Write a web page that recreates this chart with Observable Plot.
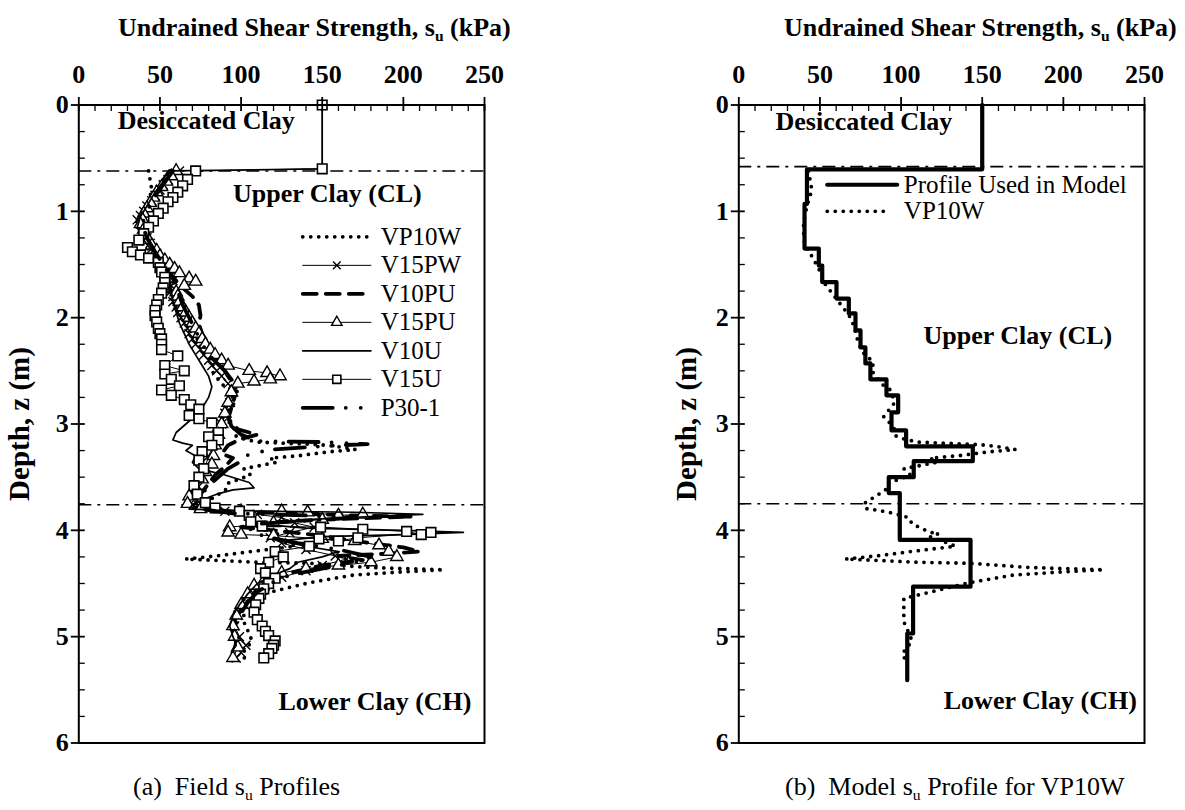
<!DOCTYPE html>
<html><head><meta charset="utf-8">
<script src="https://cdn.jsdelivr.net/npm/d3@7"></script>
<script src="https://cdn.jsdelivr.net/npm/@observablehq/plot@0.6"></script>
<style>
body{margin:0;background:#fff;}
#root{position:relative;width:1185px;height:810px;overflow:hidden;background:#fff;font-family:"Liberation Serif","Times New Roman",serif;color:#000;}
.title{position:absolute;top:13px;font-weight:bold;font-size:26px;white-space:nowrap;line-height:30px}
.cap{position:absolute;top:772px;font-size:26px;white-space:nowrap;line-height:30px}
.ylab{position:absolute;font-weight:bold;font-size:29px;white-space:nowrap;line-height:32px;transform:translate(-50%,-50%) rotate(-90deg);}
sub{font-size:0.6em;vertical-align:-0.3em;line-height:0}
.panel{position:absolute;top:0}
</style></head><body>
<div id="root">
  <div class="title" id="tA" style="left:118px">Undrained Shear Strength, s<sub>u</sub> (kPa)</div>
  <div class="title" id="tB" style="left:784px">Undrained Shear Strength, s<sub>u</sub> (kPa)</div>
  <div class="ylab" style="left:19px;top:424px">Depth, z (m)</div>
  <div class="ylab" style="left:686px;top:424px">Depth, z (m)</div>
  <div class="cap" style="left:133px">(a)&nbsp; Field s<sub>u</sub> Profiles</div>
  <div class="cap" style="left:785px">(b)&nbsp; Model s<sub>u</sub> Profile for VP10W</div>
  <div class="panel" id="pA" style="left:0px"></div>
  <div class="panel" id="pB" style="left:600px"></div>
</div>
<script>
// ---------- data (su in kPa, depth in m) ----------
const seriesNames = ["VP10W","V15PW","V10PU","V15PU","V10U","V15U","P30-1"];
const xMajor = [0,50,100,150,200,250];
const yMajor = [0,1,2,3,4,5,6];
const layerBoundaryA = [0.62, 3.76];
const layerBoundaryB = [0.58, 3.75];

const vp10w = [[43,0.62],[45,0.8],[42,0.95],[40,1.1],[39.8,1.18],[40.5,1.3],[46,1.45],[50.3,1.57],[53,1.68],[58,1.78],[63,1.88],[68,1.98],[71,2.08],[73,2.2],[76,2.32],[83,2.42],[82,2.5],[86,2.58],[89.3,2.64],[93.5,2.68],[96,2.8],[89.3,2.93],[95.5,3.03],[96.5,3.11],[101.7,3.14],[110,3.17],[125,3.18],[143,3.19],[153,3.2],[163,3.22],[170.5,3.24],[155,3.26],[134.6,3.3],[118,3.32],[122,3.36],[112,3.39],[101.7,3.42],[105.8,3.48],[91.4,3.56],[90.4,3.62],[83.2,3.69],[77,3.75],[79.1,3.8],[85.3,3.81],[95.5,3.84],[104.7,3.88],[106.8,3.94],[118,4.02],[123.2,4.03],[118,4.06],[130.4,4.13],[133.5,4.15],[122,4.17],[105.8,4.2],[85.3,4.24],[65.7,4.27],[81.1,4.28],[110,4.3],[142.8,4.31],[179.7,4.35],[225,4.37],[200,4.39],[169.4,4.42],[142.8,4.49],[126.3,4.55],[110,4.61],[101.7,4.64],[101.7,4.78],[101.7,4.86],[103.8,4.93],[106.8,5.04],[100.7,5.16],[102.7,5.22]];

const v15pw = [[62,0.62],[58,0.66],[55,0.7],[52,0.75],[50,0.8],[47,0.85],[45,0.9],[42,0.95],[40,1.0],[38,1.04],[36,1.08],[38,1.12],[40,1.15],[41,1.2],[42,1.25],[44,1.3],[45,1.35],[48,1.4],[50,1.45],[53,1.5],[55,1.55],[57,1.6],[58,1.65],[57,1.7],[57,1.75],[58,1.8],[58,1.85],[60,1.9],[61,1.95],[63,2.0],[65,2.05],[67,2.1],[68,2.15],[70,2.2],[72,2.25],[75,2.3],[77,2.35],[80,2.4],[82,2.45],[85,2.5],[88,2.55],[92,2.62],[95,2.7],[93,2.8],[90,2.9],[88,3.0],[85,3.1],[83,3.2],[80,3.3],[78,3.4],[75,3.5],[73,3.6],[72,3.7],[74,3.78],[90,3.82],[110,3.85],[125,3.88],[133,3.93],[145,3.97],[130,4.02],[118,4.07],[125,4.12],[140,4.18],[158,4.24],[165,4.27],[150,4.33],[140,4.38],[125,4.44],[115,4.52],[108,4.6],[102,4.7],[98,4.8],[96,4.9],[99,5.0],[103,5.08],[100,5.15],[97,5.2]];

const v10pu = [[56,0.62],[50,0.75],[45,0.88],[41,1.0],[38,1.1],[40,1.22],[44,1.32],[48,1.42],[53,1.52],[58,1.62],[64,1.72],[70,1.8],[74,1.88],[75,1.98],[74,2.06],[76,2.15],[80,2.25],[84,2.35],[88,2.45],[92,2.55],[96,2.65],[96,2.75],[94,2.85],[92,2.95],[98,3.05],[110,3.1],[100,3.14],[92,3.2],[88,3.28],[95,3.32],[90,3.4],[84,3.48],[80,3.56],[76,3.64],[72,3.72],[70,3.78],[80,3.82],[130,3.84],[170,3.86],[205,3.87],[150,3.9],[110,3.93],[100,3.97],[120,4.0],[150,4.05],[170,4.1],[200,4.16],[210,4.2],[190,4.22],[160,4.24],[175,4.28],[150,4.33],[130,4.4],[118,4.48],[110,4.55],[105,4.65],[100,4.75],[96,4.85],[95,4.95],[97,5.05],[96,5.12]];

const v15pu = [[60,0.62],[57,0.67],[54,0.72],[51,0.77],[48,0.82],[46,0.87],[44,0.92],[42,0.97],[40,1.02],[39,1.07],[38,1.12],[40,1.17],[41,1.22],[43,1.27],[45,1.32],[48,1.37],[50,1.42],[53,1.46],[56,1.5],[59,1.54],[62,1.58],[68,1.63],[72,1.66],[65,1.7],[60,1.76],[61,1.8],[62,1.85],[64,1.9],[66,1.95],[68,2.0],[70,2.05],[72,2.1],[74,2.15],[76,2.2],[78,2.25],[81,2.3],[84,2.35],[88,2.4],[92,2.45],[105,2.5],[116,2.52],[124,2.55],[118,2.58],[108,2.6],[98,2.62],[94,2.7],[92,2.8],[90,2.9],[88,3.0],[86,3.1],[84,3.2],[83,3.3],[82,3.38],[78,3.45],[76,3.52],[72,3.6],[68,3.68],[67,3.75],[75,3.8],[100,3.82],[125,3.82],[141,3.83],[160,3.86],[175,3.85],[150,3.9],[120,3.93],[93,3.97],[92,4.02],[100,4.04],[120,4.05],[150,4.08],[170,4.1],[185,4.14],[191,4.2],[196,4.25],[180,4.3],[160,4.33],[140,4.36],[125,4.4],[115,4.45],[108,4.52],[104,4.6],[100,4.7],[97,4.8],[95,4.9],[96,5.0],[98,5.1],[95,5.2]];

const v10u = [[150,0],[150,0.6],[58,0.62],[52,0.72],[47,0.82],[42,0.95],[38,1.05],[36,1.15],[39,1.25],[44,1.35],[50,1.45],[54,1.55],[56,1.65],[57,1.75],[58,1.85],[60,1.95],[62,2.05],[65,2.15],[68,2.25],[72,2.35],[76,2.45],[80,2.55],[82,2.65],[80,2.75],[76,2.85],[72,2.92],[66,3.0],[60,3.08],[58,3.15],[64,3.18],[70,3.2],[66,3.25],[72,3.3],[70,3.36],[74,3.42],[90,3.48],[105,3.55],[108,3.6],[95,3.62],[85,3.66],[78,3.7],[70,3.76],[68,3.8],[110,3.82],[170,3.83],[212,3.85],[180,3.87],[140,3.9],[110,3.94],[140,3.98],[200,4.0],[237,4.02],[200,4.04],[150,4.06],[125,4.1],[140,4.15],[160,4.2],[150,4.25],[135,4.3],[130,4.36],[120,4.42],[110,4.5],[104,4.6],[99,4.7],[95,4.8],[93,4.9],[95,5.0],[97,5.08],[94,5.15]];

const v15u = [[150,0],[150,0.6],[72,0.62],[67,0.7],[64,0.76],[61,0.82],[58,0.87],[55,0.91],[52,0.97],[49,1.02],[46,1.09],[43,1.15],[40,1.21],[37,1.27],[30,1.34],[33,1.38],[38,1.41],[43,1.44],[49,1.48],[50,1.53],[51,1.57],[53,1.62],[53,1.67],[52,1.72],[51,1.77],[49,1.83],[48,1.88],[47,1.93],[47,1.98],[48,2.04],[49,2.1],[50,2.15],[51,2.2],[51,2.25],[51,2.3],[61,2.36],[53,2.45],[65,2.5],[53,2.53],[57,2.58],[62,2.64],[51,2.68],[57,2.73],[65,2.77],[69,2.82],[74,2.86],[68,2.92],[74,2.95],[82,2.99],[86,3.08],[80,3.12],[86,3.15],[82,3.2],[76,3.26],[74,3.34],[77,3.42],[74,3.5],[71,3.58],[73,3.66],[78,3.74],[84,3.79],[99,3.82],[105,3.86],[106,3.92],[113,3.96],[149,3.97],[175,3.99],[202,4.01],[211,4.04],[217,4.02],[172,4.07],[160,4.1],[148,4.08],[142,4.15],[121,4.2],[126,4.25],[117,4.3],[112,4.36],[115,4.4],[121,4.45],[117,4.5],[114,4.55],[112,4.6],[111,4.64],[109,4.7],[108,4.77],[110,4.84],[113,4.9],[115,4.95],[117,4.99],[121,5.04],[120,5.08],[119,5.11],[117,5.16],[114,5.2]];

const p301 = [[58,0.62],[52,0.75],[46,0.88],[42,1.0],[39,1.12],[42,1.25],[47,1.38],[52,1.5],[57,1.62],[61,1.75],[64,1.88],[68,2.0],[72,2.12],[76,2.25],[82,2.38],[90,2.5],[96,2.62],[98,2.72],[95,2.82],[92,2.92],[94,3.02],[100,3.1],[110,3.16],[150,3.17],[178,3.19],[160,3.2],[120,3.24],[105,3.28],[100,3.35],[92,3.42],[86,3.5],[80,3.58],[76,3.66],[72,3.74],[75,3.8],[95,3.84],[140,3.86],[170,3.88],[140,3.91],[110,3.94],[105,4.0],[115,4.06],[135,4.12],[160,4.18],[180,4.25],[170,4.3],[150,4.36],[130,4.42],[118,4.5],[110,4.58],[104,4.68],[100,4.78],[97,4.88],[98,4.98],[100,5.06]];

// model profile: top depth of each step and its su value
const modelDepth = [0,0.605,0.93,1.35,1.51,1.665,1.82,1.96,2.12,2.28,2.43,2.58,2.73,2.89,3.06,3.21,3.35,3.5,3.65,4.09,4.53,4.97,5.41];
const modelSu    = [150,42,40.5,49.3,51.4,60.2,67.8,71.9,75,78,81.1,91,98.2,94.1,103.1,144.2,107.8,92.4,99.2,142.8,107.4,103.8,103.8];
const modelLegend = ["Profile Used in Model","VP10W"];

// ---------- helpers ----------
const xMinor = d3.range(0,251,10).filter(v => v % 50 !== 0);
const yMinor = d3.range(0,6.01,0.25).filter(v => Math.abs(v - Math.round(v)) > 1e-6);
const tickIn  = {draw(c){ c.moveTo(0,0); c.lineTo(0,6); }};
const tickXMaj = {draw(c){ c.moveTo(0,-8); c.lineTo(0,6); }};
const tickInY = {draw(c){ c.moveTo(0,0); c.lineTo(6,0); }};
const tickYMaj = {draw(c){ c.moveTo(-8,0); c.lineTo(6,0); }};
const F = "Liberation Serif";

function axesMarks() {
  return [
    Plot.frame({stroke:"black", strokeWidth:2}),
    Plot.dot(xMinor, {x:d=>d, y:0, symbol:tickIn, stroke:"black", fill:"none", strokeWidth:1.3}),
    Plot.dot(xMajor, {x:d=>d, y:0, symbol:tickXMaj, stroke:"black", fill:"none", strokeWidth:1.8}),
    Plot.dot(yMinor, {x:0, y:d=>d, symbol:tickInY, stroke:"black", fill:"none", strokeWidth:1.3}),
    Plot.dot(yMajor, {x:0, y:d=>d, symbol:tickYMaj, stroke:"black", fill:"none", strokeWidth:1.8}),
    Plot.axisX(xMajor, {anchor:"top", tickSize:0, tickPadding:22, fontSize:26, fontWeight:"bold", fontFamily:F, label:null, tickFormat:d=>String(d)}),
    Plot.axisY(yMajor, {anchor:"left", tickSize:0, tickPadding:10, fontSize:26, fontWeight:"bold", fontFamily:F, label:null, tickFormat:d=>String(d)})
  ];
}
const xy = {x:d=>d[0], y:d=>d[1]};
const dotted = {stroke:"black", strokeWidth:3.8, strokeDasharray:"0 8", strokeLinecap:"round"};
const styles = {
  "VP10W": {line: dotted},
  "V15PW": {line:{stroke:"black", strokeWidth:1}, sym:{symbol:"times", r:4.2, stroke:"black", fill:"none", strokeWidth:1.4}},
  "V10PU": {line:{stroke:"black", strokeWidth:3.8, strokeDasharray:"14 9"}},
  "V15PU": {line:{stroke:"black", strokeWidth:1}, sym:{symbol:"triangle", r:4.6, stroke:"black", fill:"white", strokeWidth:1.4}},
  "V10U":  {line:{stroke:"black", strokeWidth:1.7}},
  "V15U":  {line:{stroke:"black", strokeWidth:1}, sym:{symbol:"square", r:5.4, stroke:"black", fill:"white", strokeWidth:1.6}},
  "P30-1": {line:{stroke:"black", strokeWidth:3.8, strokeDasharray:"30 13 0 15 0 13", strokeLinecap:"round"}}
};
const seriesData = {"VP10W":vp10w,"V15PW":v15pw,"V10PU":v10pu,"V15PU":v15pu,"V10U":v10u,"V15U":v15u,"P30-1":p301};

// ---------- panel (a) ----------
const marksA = [];
marksA.push(Plot.ruleY(layerBoundaryA, {y:d=>d, stroke:"black", strokeWidth:1.6, strokeDasharray:"13 6 3 6"}));
for (const name of seriesNames) {
  const s = styles[name], data = seriesData[name];
  marksA.push(Plot.line(data, {...xy, ...s.line}));
  if (s.sym) marksA.push(Plot.dot(data, {...xy, ...s.sym}));
}
// legend
const legTop = 1.24, legStep = 0.268, legX0 = 138, legX1 = 180, legXt = 186;
seriesNames.forEach((name, i) => {
  const s = styles[name], yy = legTop + i*legStep;
  marksA.push(Plot.line([[legX0,yy],[legX1,yy]], {...xy, ...s.line}));
  if (s.sym) marksA.push(Plot.dot([[(legX0+legX1)/2,yy]], {...xy, ...s.sym, r: s.sym.r*0.85}));
  marksA.push(Plot.text([name], {x:legXt, y:yy, text:d=>d, textAnchor:"start", fontSize:25, fontFamily:F}));
});
marksA.push(Plot.text(["Desiccated Clay"], {x:24, y:0.15, text:d=>d, textAnchor:"start", fontSize:26, fontWeight:"bold", fontFamily:F}));
marksA.push(Plot.text(["Upper Clay (CL)"], {x:95, y:0.83, text:d=>d, textAnchor:"start", fontSize:26, fontWeight:"bold", fontFamily:F}));
marksA.push(Plot.text(["Lower Clay (CH)"], {x:123, y:5.61, text:d=>d, textAnchor:"start", fontSize:26, fontWeight:"bold", fontFamily:F}));
marksA.push(...axesMarks());

const plotA = Plot.plot({
  width:560, height:770, marginLeft:78.3, marginRight:560-484, marginTop:104.5, marginBottom:770-742.5,
  x:{domain:[0,250]}, y:{domain:[0,6], reverse:true},
  style:{fontFamily:F, color:"black", background:"transparent", overflow:"visible"},
  marks: marksA
});
document.getElementById("pA").appendChild(plotA);

// ---------- panel (b) ----------
const model = modelDepth.map((d,i) => [modelSu[i], d]);
const marksB = [
  Plot.ruleY(layerBoundaryB, {y:d=>d, stroke:"black", strokeWidth:1.6, strokeDasharray:"13 6 3 6"}),
  Plot.line(vp10w, {...xy, ...dotted}),
  Plot.line(model, {...xy, stroke:"black", strokeWidth:4.2, curve:"step-before"}),
  Plot.line([[54.5,0.75],[97.6,0.75]], {...xy, stroke:"black", strokeWidth:4.2}),
  Plot.line([[54.5,1.0],[91.4,1.0]], {...xy, ...dotted}),
  Plot.text(modelLegend, {x:101.7, y:(d,i)=>0.75 + i*0.25, text:d=>d, textAnchor:"start", fontSize:25, fontFamily:F}),
  Plot.text(["Desiccated Clay"], {x:22.6, y:0.16, text:d=>d, textAnchor:"start", fontSize:26, fontWeight:"bold", fontFamily:F}),
  Plot.text(["Upper Clay (CL)"], {x:113.8, y:2.17, text:d=>d, textAnchor:"start", fontSize:26, fontWeight:"bold", fontFamily:F}),
  Plot.text(["Lower Clay (CH)"], {x:126.3, y:5.6, text:d=>d, textAnchor:"start", fontSize:26, fontWeight:"bold", fontFamily:F}),
  ...axesMarks()
];
const plotB = Plot.plot({
  width:585, height:770, marginLeft:138.3, marginRight:585-544, marginTop:104.5, marginBottom:770-742.5,
  x:{domain:[0,250]}, y:{domain:[0,6], reverse:true},
  style:{fontFamily:F, color:"black", background:"transparent", overflow:"visible"},
  marks: marksB
});
document.getElementById("pB").appendChild(plotB);
</script>
</body></html>
